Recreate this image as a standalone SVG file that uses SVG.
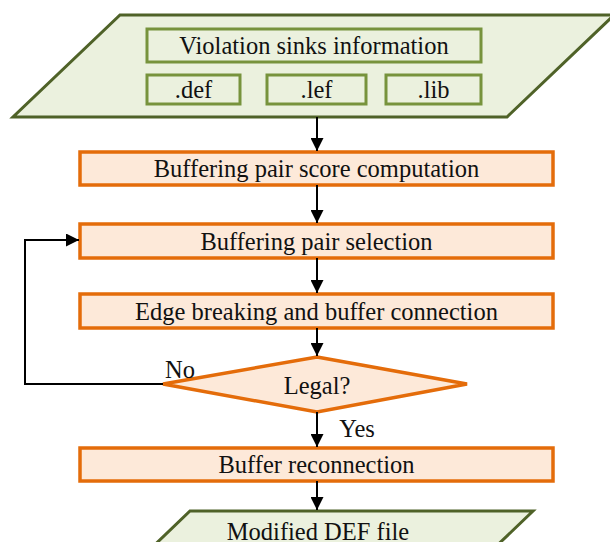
<svg xmlns="http://www.w3.org/2000/svg" width="610" height="542" viewBox="0 0 610 542">
<defs>
<style>
.io{fill:#ebf1de;stroke:#4f6228;stroke-width:3}
.ib{fill:#ebf1de;stroke:#77933c;stroke-width:3}
.pr{fill:#fde9d9;stroke:#e46c0a;stroke-width:3.5}
text{font-family:"Liberation Serif","Times New Roman",serif;font-size:24.5px;fill:#111;text-anchor:middle;dominant-baseline:central}
.c{fill:none;stroke:#000;stroke-width:2}
</style>
<marker id="ah" viewBox="0 0 12 12" refX="12" refY="6" markerWidth="13" markerHeight="13" markerUnits="userSpaceOnUse" orient="auto">
<path d="M0,0 L12,6 L0,12 Z" fill="#000"/>
</marker>
</defs>
<g id="input">
<polygon class="io" points="120,15 614,15 507,117 13,117"/>
<g id="violation"><rect class="ib" x="147" y="29" width="334" height="33"/><text x="314" y="45.5">Violation sinks information</text></g>
<g id="def"><rect class="ib" x="147" y="75" width="93" height="29"/><text x="193.5" y="89.5">.def</text></g>
<g id="lef"><rect class="ib" x="267" y="75" width="99" height="29"/><text x="316.5" y="89.5">.lef</text></g>
<g id="lib"><rect class="ib" x="386" y="75" width="95" height="29"/><text x="433.5" y="89.5">.lib</text></g>
</g>
<g id="score"><rect class="pr" x="80" y="152" width="473" height="33"/><text x="316.5" y="168.5">Buffering pair score computation</text></g>
<g id="select"><rect class="pr" x="80" y="224" width="473" height="34"/><text x="316.5" y="241">Buffering pair selection</text></g>
<g id="edge"><rect class="pr" x="80" y="294" width="473" height="34"/><text x="316.5" y="311">Edge breaking and buffer connection</text></g>
<g id="legal"><polygon class="pr" points="317,357 467,384 317,412 163,384"/><text x="317" y="385">Legal?</text></g>
<g id="reconn"><rect class="pr" x="80" y="448" width="473" height="33"/><text x="316.5" y="464.5">Buffer reconnection</text></g>
<g id="output"><polygon class="io" points="190,511 533,511 484,558 141,558"/><text x="318" y="531">Modified DEF file</text></g>
<g id="connectors">
<line class="c" x1="317" y1="117" x2="317" y2="151" marker-end="url(#ah)"/>
<line class="c" x1="317" y1="185" x2="317" y2="223" marker-end="url(#ah)"/>
<line class="c" x1="317" y1="258" x2="317" y2="293" marker-end="url(#ah)"/>
<line class="c" x1="317" y1="328" x2="317" y2="356" marker-end="url(#ah)"/>
<polyline class="c" points="163,384 25,384 25,240 79,240" marker-end="url(#ah)"/>
<line class="c" x1="317" y1="412" x2="317" y2="447" marker-end="url(#ah)"/>
<line class="c" x1="317" y1="481" x2="317" y2="510" marker-end="url(#ah)"/>
<text x="180" y="369">No</text>
<text x="357" y="428">Yes</text>
</g>
</svg>
